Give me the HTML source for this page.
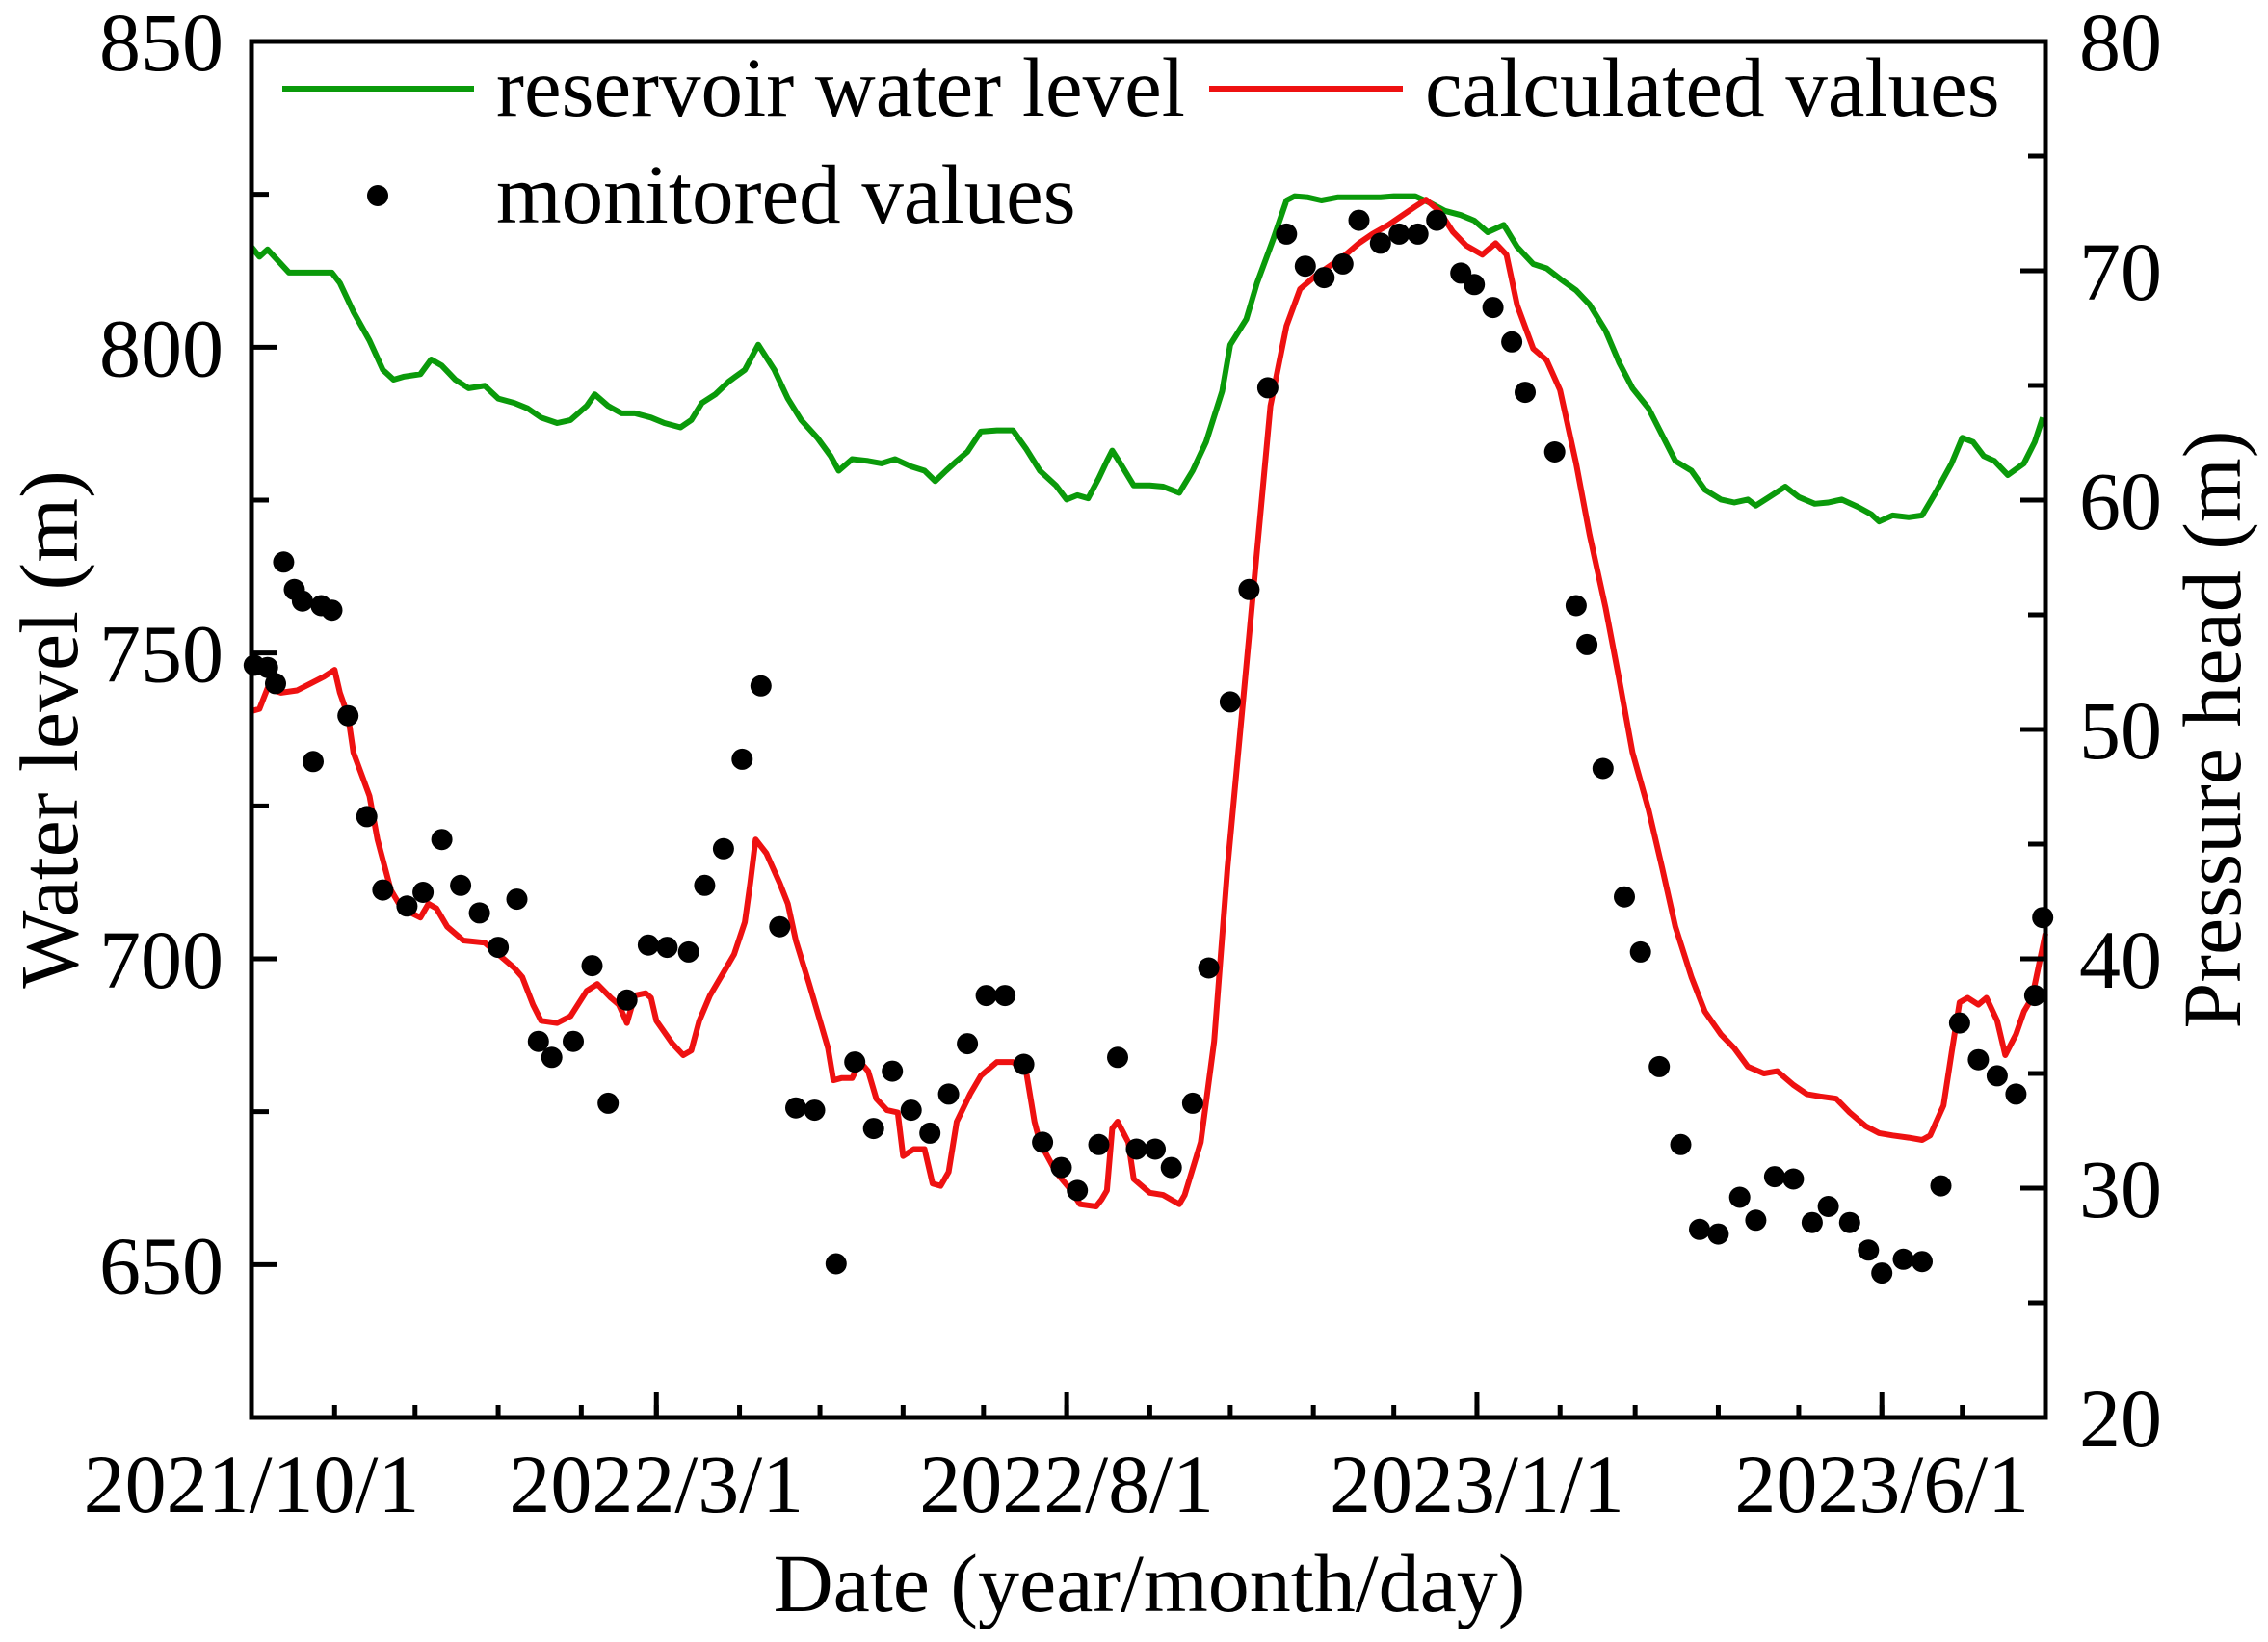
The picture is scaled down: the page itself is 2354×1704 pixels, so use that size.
<!DOCTYPE html>
<html><head><meta charset="utf-8"><style>
html,body{margin:0;padding:0;background:#fff;}
svg{display:block;font-family:"Liberation Serif","Times New Roman",serif;}
</style></head><body>
<svg id="chart" width="2354" height="1704" viewBox="0 0 2354 1704"></svg>
<script>
// ---- data (days since 2021-10-01) ----
const reservoirDays=[0,3,6,10,14,19,25,30,33,38,44,49,53,57,63,67,71,76,81,87,92,98,103,108,114,119,125,128,133,138,143,149,154,160,164,168,173,178,184,189,195,200,205,211,216,219,224,230,235,240,246,251,255,259,263,267,272,278,284,289,294,300,304,308,312,316,319,321,324,329,335,340,346,351,356,362,365,371,375,381,386,389,394,399,405,410,416,421,426,434,440,445,451,456,461,467,472,478,483,488,494,499,505,510,515,521,526,531,537,542,548,553,558,561,566,572,577,583,588,593,599,604,607,612,618,623,628,634,638,642,646,650,655,661,665,668];
const reservoirLevel=[816.4,814.8,816.0,814.1,812.2,812.2,812.2,812.2,810.5,805.8,801.1,796.3,794.7,795.2,795.6,798.0,797.0,794.7,793.3,793.7,791.6,790.9,790.0,788.5,787.6,788.1,790.4,792.3,790.4,789.2,789.2,788.5,787.6,786.9,788.1,790.9,792.3,794.4,796.3,800.4,796.3,791.6,788.1,785.2,782.2,779.8,781.7,781.4,781.0,781.7,780.5,779.8,778.1,779.8,781.4,782.9,786.2,786.4,786.4,783.3,779.8,777.4,775.1,775.8,775.3,778.6,781.4,783.1,781.0,777.4,777.4,777.2,776.2,779.8,784.5,792.8,800.4,804.6,810.5,817.6,824.0,824.7,824.5,824.0,824.5,824.5,824.5,824.5,824.7,824.7,823.5,822.3,821.6,820.7,818.8,820.0,816.4,813.6,812.9,811.2,809.3,807.0,802.7,797.5,793.3,790.0,785.7,781.4,779.8,776.7,775.1,774.6,775.1,774.1,775.5,777.2,775.5,774.4,774.6,775.1,773.9,772.7,771.5,772.5,772.2,772.5,776.2,781.0,785.2,784.5,782.2,781.4,779.1,781.0,784.5,788.5];
const calcDays=[0,3,6,11,17,22,27,31,33,36,38,44,47,52,56,63,66,69,73,79,87,92,98,101,105,108,114,119,125,129,134,137,140,143,147,149,151,157,161,164,167,171,176,180,184,186,188,192,197,200,203,208,212,215,217,220,224,227,230,233,237,241,243,247,251,254,257,260,263,268,272,278,284,286,289,292,294,300,305,309,315,317,319,321,323,327,329,335,340,346,348,354,359,364,370,375,380,386,391,397,402,407,413,418,424,429,434,438,443,448,453,459,464,468,472,478,483,488,494,499,505,510,515,521,526,531,537,542,548,553,558,564,569,575,580,585,591,596,602,607,612,618,623,626,631,634,637,640,644,647,651,654,658,661,664,669];
const calcPressure=[50.8,50.9,51.8,51.6,51.7,52.0,52.3,52.6,51.6,50.6,49.0,47.1,45.2,43.0,42.2,41.8,42.4,42.2,41.4,40.8,40.7,40.2,39.6,39.2,38.0,37.3,37.2,37.5,38.6,38.9,38.3,38.0,37.2,38.4,38.5,38.3,37.3,36.3,35.8,36.0,37.3,38.4,39.4,40.2,41.6,43.3,45.2,44.6,43.3,42.4,40.8,38.9,37.3,36.1,34.7,34.8,34.8,35.5,35.1,33.9,33.4,33.3,31.4,31.7,31.7,30.2,30.1,30.7,32.9,34.1,34.9,35.5,35.5,35.3,35.0,32.9,32.0,30.7,30.0,29.3,29.2,29.5,29.9,32.6,32.9,32.0,30.4,29.8,29.7,29.3,29.7,32.0,36.4,44.0,51.5,57.8,64.1,67.6,69.2,69.8,70.2,70.6,71.2,71.6,72.0,72.4,72.8,73.1,72.6,71.7,71.1,70.7,71.2,70.7,68.5,66.6,66.1,64.8,61.6,58.5,55.3,52.2,49.0,46.5,44.0,41.4,39.2,37.7,36.7,36.1,35.3,35.0,35.1,34.5,34.1,34.0,33.9,33.3,32.7,32.4,32.3,32.2,32.1,32.3,33.6,35.9,38.1,38.3,38.0,38.3,37.3,35.8,36.7,37.7,38.3,41.1];
const monDays=[1,6,9,12,16,19,23,26,30,36,43,49,58,64,71,78,85,92,99,107,112,120,127,133,140,148,155,163,169,176,183,190,197,203,210,218,225,232,239,246,253,260,267,274,281,288,295,302,308,316,323,330,337,343,351,357,365,372,379,386,393,400,407,413,421,428,435,442,451,456,463,470,475,486,494,498,504,512,518,525,533,540,547,555,561,568,575,582,588,596,603,608,616,623,630,637,644,651,658,665,668];
const monPressure=[52.8,52.7,52.0,57.3,56.1,55.6,48.6,55.4,55.2,50.6,46.2,43.0,42.3,42.9,45.2,43.2,42.0,40.5,42.6,36.4,35.7,36.4,39.7,33.7,38.2,40.6,40.5,40.3,43.2,44.8,48.7,51.9,41.4,33.5,33.4,26.7,35.5,32.6,35.1,33.4,32.4,34.1,36.3,38.4,38.4,35.4,32.0,30.9,29.9,31.9,35.7,31.7,31.7,30.9,33.7,39.6,51.2,56.1,64.9,71.6,70.2,69.7,70.3,72.2,71.2,71.6,71.6,72.2,69.9,69.4,68.4,66.9,64.7,62.1,55.4,53.7,48.3,42.7,40.3,35.3,31.9,28.2,28.0,29.6,28.6,30.5,30.4,28.5,29.2,28.5,27.3,26.3,26.9,26.8,30.1,37.2,35.6,34.9,34.1,38.4,41.8];
const xTickDays=[0,151,304,457,608];
const xTickLabels=["2021/10/1","2022/3/1","2022/8/1","2023/1/1","2023/6/1"];
const monthStarts=[0,31,61,92,123,151,182,212,243,273,304,335,365,396,426,457,488,516,547,577,608,638,669];
const leftTicks=[650,700,750,800,850];
const rightTicks=[20,30,40,50,60,70,80];

// ---- axes ----
const L=261,R=2123,T=43,B=1471;
const x=d=>L+(d/669)*(R-L);
const yL=v=>B-(v-625)/225*(B-T);
const yR=v=>B-(v-20)/60*(B-T);
const NS="http://www.w3.org/2000/svg";
const svg=document.getElementById('chart');
function mk(tag,attrs,parent){const e=document.createElementNS(NS,tag);for(const k in attrs)e.setAttribute(k,attrs[k]);(parent||svg).appendChild(e);return e;}

const gPts=reservoirDays.map((d,i)=>x(d).toFixed(1)+','+yL(reservoirLevel[i]).toFixed(1)).join(' ');
const gl=mk('polyline',{points:gPts,fill:'none',stroke:'#0a9a0a','stroke-width':6,'stroke-linejoin':'round'});


const rPts=calcDays.map((d,i)=>x(d).toFixed(1)+','+yR(calcPressure[i]).toFixed(1)).join(' ');
const rl=mk('polyline',{points:rPts,fill:'none',stroke:'#ee1111','stroke-width':6,'stroke-linejoin':'round'});


const dg=mk('g',{});


monDays.forEach((d,i)=>{const c=mk('circle',{cx:x(d).toFixed(1),cy:yR(monPressure[i]).toFixed(1),r:11,fill:'#000'},dg);

});

const fr=mk('rect',{x:L,y:T,width:R-L,height:B-T,fill:'none',stroke:'#000','stroke-width':5});



monthStarts.forEach(d=>{mk('line',{x1:x(d),x2:x(d),y1:B,y2:B-13,stroke:'#000','stroke-width':5});});
xTickDays.forEach((d,i)=>{mk('line',{x1:x(d),x2:x(d),y1:B,y2:B-26,stroke:'#000','stroke-width':5});
const t=mk('text',{x:x(d),y:1569,'font-size':86,'text-anchor':'middle'});t.textContent=xTickLabels[i];

});
for(let v=625;v<=850;v+=25){const maj=v%50===0;mk('line',{x1:L,x2:L+(maj?26:18),y1:yL(v),y2:yL(v),stroke:'#000','stroke-width':5});}
leftTicks.forEach(v=>{const t=mk('text',{x:232,y:yL(v)+30,'font-size':86,'text-anchor':'end'});t.textContent=v;

});
for(let v=20;v<=80;v+=5){const maj=v%10===0;mk('line',{x1:R,x2:R-(maj?26:18),y1:yR(v),y2:yR(v),stroke:'#000','stroke-width':5});}
rightTicks.forEach(v=>{const t=mk('text',{x:2158,y:yR(v)+30,'font-size':86,'text-anchor':'start'});t.textContent=v;

});

let t=mk('text',{x:1193,y:1672,'font-size':86,'text-anchor':'middle'});t.textContent='Date (year/month/day)';


t=mk('text',{x:0,y:0,'font-size':86,'text-anchor':'middle',transform:'translate(80,757) rotate(-90)'});t.textContent='Water level (m)';


t=mk('text',{x:0,y:0,'font-size':86,'text-anchor':'middle',transform:'translate(2325,757) rotate(-90)'});t.textContent='Pressure head (m)';


let l=mk('line',{x1:293,x2:492,y1:92,y2:92,stroke:'#0a9a0a','stroke-width':6});


t=mk('text',{x:515,y:120,'font-size':87});t.textContent='reservoir water level';


l=mk('line',{x1:1255,x2:1456,y1:92,y2:92,stroke:'#ee1111','stroke-width':6});


t=mk('text',{x:1479,y:120,'font-size':87});t.textContent='calculated values';


l=mk('circle',{cx:392,cy:203,r:11,fill:'#000'});


t=mk('text',{x:515,y:231,'font-size':87});t.textContent='monitored values';


</script>
</body></html>
